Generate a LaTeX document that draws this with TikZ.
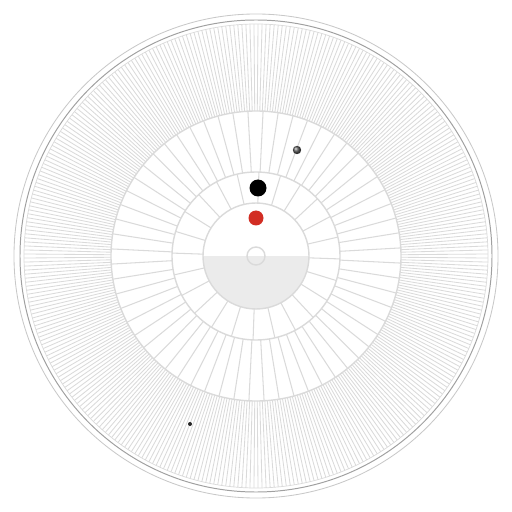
\documentclass[tikz,border=0pt]{standalone}
\usepackage{tikz}
\usetikzlibrary{calc}

\definecolor{ringline}{RGB}{218,218,218}
\definecolor{rimdark}{RGB}{160,160,160}
\definecolor{rimlight}{RGB}{200,200,200}
\definecolor{nightfill}{RGB}{235,235,235}
\definecolor{markred}{RGB}{210,45,35}

\begin{document}
\begin{tikzpicture}[x=0.025cm, y=0.025cm]
\tikzset{
  tick/.style={draw=ringline, line width=0.6pt},
  ringedge/.style={draw=ringline, line width=1pt},
}

% Canvas
\useasboundingbox (-256,-256) rectangle (256,256);

% Outer rim circles
\draw[rimlight, line width=0.6pt] (0,0) circle (242);
\draw[rimdark, line width=0.7pt] (0,0) circle (236);
\draw[ringline, line width=0.5pt] (0,0) circle (232);

% Outer ring ticks (degrees)
\foreach \a in {0,...,359} {
    \draw[tick] ({145*cos(\a+0.5)}, {145*sin(\a+0.5)})
        -- ({232*cos(\a+0.5)}, {232*sin(\a+0.5)});
}

% Middle ring ticks (minutes)
\foreach \a in {0,...,59} {
    \draw[tick, line width=0.75pt] ({84*cos(6*\a-2.8)}, {84*sin(6*\a-2.8)})
        -- ({145*cos(6*\a-2.8)}, {145*sin(6*\a-2.8)});
}

% Inner ring ticks (hours)
\foreach \a in {0,...,23} {
    \draw[tick, line width=0.75pt] ({53*cos(15*\a-2)}, {53*sin(15*\a-2)})
        -- ({84*cos(15*\a-2)}, {84*sin(15*\a-2)});
}

% Centre disc, lower half shaded
\fill[white] (0,0) circle (53);
\fill[nightfill] (-53,0) arc (180:360:53) -- cycle;

% Ring borders
\draw[ringedge] (0,0) circle (145);
\draw[ringedge] (0,0) circle (84);
\draw[ringedge] (0,0) circle (53);

% Hub
\draw[ringedge] (0,0) circle (9);

% Hands
\fill[markred] (0,38) circle (7.5);
\fill[black] (2,68) circle (8.5);
\shade[ball color=black!65] (41,106) circle (4.2);
\fill[black!85] (-66,-168) circle (2);
\end{tikzpicture}
\end{document}
